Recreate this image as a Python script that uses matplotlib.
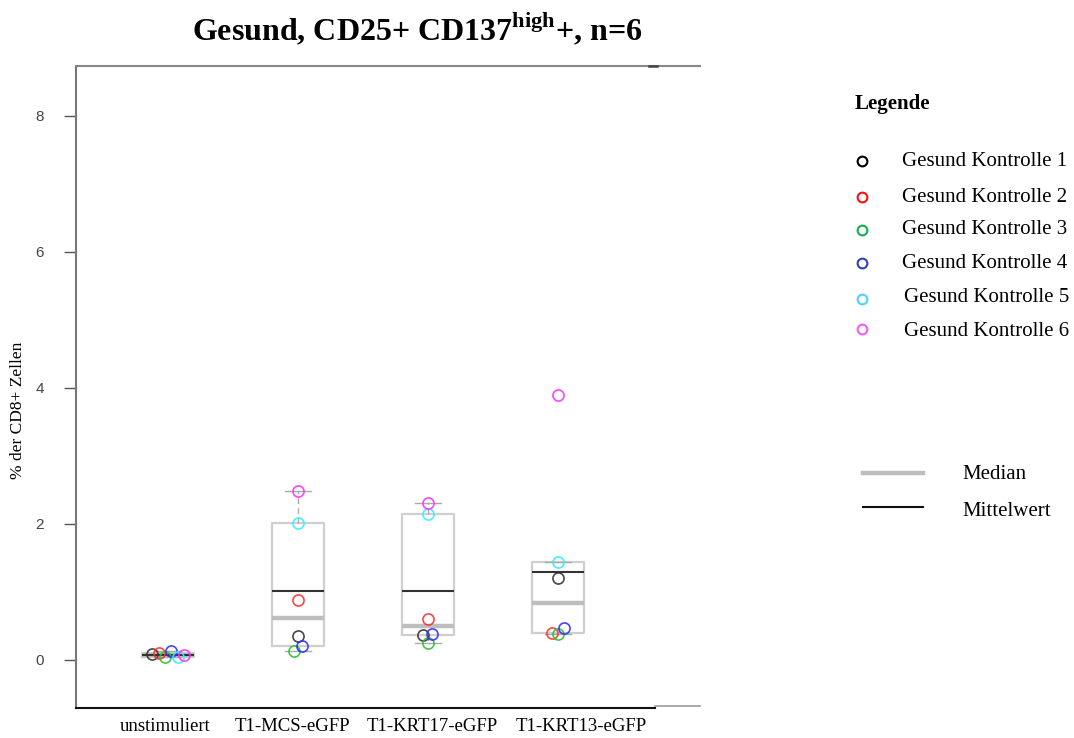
import math
import numpy as np
import matplotlib
matplotlib.use("Agg")
import matplotlib.pyplot as plt
from matplotlib.lines import Line2D

plt.rcParams["mathtext.fontset"] = "custom"
plt.rcParams["mathtext.rm"] = "Liberation Serif:bold"
plt.rcParams["mathtext.bf"] = "Liberation Serif:bold"

# --- data -----------------------------------------------------------------
groups = ["unstimuliert", "T1-MCS-eGFP", "T1-KRT17-eGFP", "T1-KRT13-eGFP"]
donors = ["Gesund Kontrolle 1", "Gesund Kontrolle 2", "Gesund Kontrolle 3",
          "Gesund Kontrolle 4", "Gesund Kontrolle 5", "Gesund Kontrolle 6"]

kontrolle_1 = [0.09, 0.35, 0.37, 1.20]
kontrolle_2 = [0.10, 0.88, 0.61, 0.39]
kontrolle_3 = [0.04, 0.13, 0.25, 0.38]
kontrolle_4 = [0.13, 0.21, 0.38, 0.47]
kontrolle_5 = [0.04, 2.02, 2.15, 1.44]
kontrolle_6 = [0.07, 2.49, 2.31, 3.90]
values = [kontrolle_1, kontrolle_2, kontrolle_3, kontrolle_4, kontrolle_5, kontrolle_6]

# horizontal spread of the dots within each group
spread_1 = [-0.12, 0.0, -0.035, 0.0]
spread_2 = [-0.07, 0.0, 0.0, -0.05]
spread_3 = [-0.025, -0.03, 0.0, 0.0]
spread_4 = [0.025, 0.03, 0.03, 0.045]
spread_5 = [0.075, 0.0, 0.0, 0.0]
spread_6 = [0.125, 0.0, 0.0, 0.0]
spreads = [spread_1, spread_2, spread_3, spread_4, spread_5, spread_6]

yticks = [0, 2, 4, 6, 8]
# group captions sit evenly spaced below the axis
label_positions = [0.977, 1.96, 3.03, 4.18]

dot_colors = ["#333333", "#ff3030", "#30c030", "#3030ff", "#30f0ff", "#ff30ff"]
key_colors = ["#000000", "#ff1010", "#10b050", "#3040b0", "#50d0ff", "#f060f0"]

W, H = 1074, 738
fig = plt.figure(figsize=(W / 100, H / 100), dpi=100)


def fx(px):
    return px / W


def fy(py):
    return 1 - py / H


ax = fig.add_axes([fx(76), fy(708), fx(700) - fx(76), fy(66) - fy(708)])
ax.set_xlim(0.2923, 5.092)
ax.set_ylim(-0.706, 8.735)


def tukey_stats(v):
    s = sorted(v)
    n = len(s)
    n4 = math.floor((n + 3) / 2) / 2
    d = [1, n4, (n + 1) / 2, n + 1 - n4, n]
    f = [0.5 * (s[math.floor(k - 1)] + s[math.ceil(k - 1)]) for k in d]
    iqr = f[3] - f[1]
    lo = min(x for x in s if x >= f[1] - 1.5 * iqr)
    hi = max(x for x in s if x <= f[3] + 1.5 * iqr)
    return dict(med=f[2], q1=f[1], q3=f[3], whislo=lo, whishi=hi,
                mean=float(np.mean(s)), fliers=[])


positions = np.arange(1, len(groups) + 1)
stats = [tukey_stats([v[g] for v in values]) for g in range(len(groups))]

ax.bxp(stats, positions=positions, widths=0.4, capwidths=0.2,
       showmeans=True, meanline=True, showfliers=False,
       boxprops=dict(color="#cfcfcf", linewidth=1.6),
       whiskerprops=dict(color="#aaaaaa", linewidth=1.0, linestyle=(0, (4, 3))),
       capprops=dict(color="#aaaaaa", linewidth=1.0),
       medianprops=dict(color="#bdbdbd", linewidth=3.2),
       meanprops=dict(color="#333333", linewidth=1.5, linestyle="-"))

for vals, off, col in zip(values, spreads, dot_colors):
    ax.plot(positions + np.array(off), vals, linestyle="none", marker="o",
            markersize=8, markerfacecolor="none", markeredgecolor=col,
            markeredgewidth=1.2, alpha=0.9, zorder=5)

# axes frame
ax.spines["right"].set_visible(False)
ax.spines["left"].set_color("#777777")
ax.spines["left"].set_linewidth(1.5)
ax.spines["top"].set_color("#888888")
ax.spines["top"].set_linewidth(1.5)
ax.spines["bottom"].set_color("#111111")
ax.spines["bottom"].set_linewidth(1.5)
ax.spines["bottom"].set_bounds(0.2923, 4.746)
ax.plot([4.746, 5.092], [-0.706 + 0.03, -0.706 + 0.03], color="#999999",
        linewidth=1.2, clip_on=False, zorder=6)
ax.plot([4.70, 4.76], [8.735, 8.735], color="#444444", linewidth=1.8,
        clip_on=False, zorder=6)

ax.set_yticks(yticks)
ax.set_yticklabels([str(t) for t in yticks], fontfamily="Liberation Sans",
                   fontsize=11, color="#444444")
ax.tick_params(axis="y", length=9, width=1, color="#555555", pad=14)
ax.set_xticks(label_positions)
ax.set_xticklabels(groups, fontfamily="Liberation Serif", fontsize=13.5)
ax.tick_params(axis="x", length=0, pad=7)

fig.text(fx(18), fy(410), "% der CD8+ Zellen", rotation=90, ha="center",
         va="center", fontfamily="Liberation Serif", fontsize=12.5)

fig.text(fx(417), fy(40), r"Gesund, CD25+ CD137$^{\mathbf{high}}$+, n=6",
         ha="center", va="baseline", fontfamily="Liberation Serif",
         fontweight="bold", fontsize=23)

# key for the donors
fig.text(fx(855), fy(104), "Legende", ha="left", va="center",
         fontfamily="Liberation Serif", fontweight="bold", fontsize=15)
key_marker_y = [161, 197, 230, 263, 299, 329]
key_text_y = [162, 198, 229, 263, 298, 331]
key_text_x = [902, 902, 902, 902, 904, 904]
for name, col, my, ty, tx in zip(donors, key_colors, key_marker_y, key_text_y, key_text_x):
    fig.add_artist(Line2D([fx(862)], [fy(my)], marker="o", markersize=7,
                          markerfacecolor="none", markeredgecolor=col,
                          markeredgewidth=1.5, linestyle="none"))
    fig.text(fx(tx), fy(ty), name, ha="left", va="center",
             fontfamily="Liberation Serif", fontsize=15)

fig.add_artist(Line2D([fx(863), fx(923)], [fy(472.5), fy(472.5)],
                      color="#bdbdbd", linewidth=3.2))
fig.add_artist(Line2D([fx(863), fx(923)], [fy(507), fy(507)],
                      color="#111111", linewidth=1.5))
fig.text(fx(962), fy(474), "Median", ha="left", va="center",
         fontfamily="Liberation Serif", fontsize=15)
fig.text(fx(962), fy(511), "Mittelwert", ha="left", va="center",
         fontfamily="Liberation Serif", fontsize=15)

fig.savefig("out.png", dpi=100)
